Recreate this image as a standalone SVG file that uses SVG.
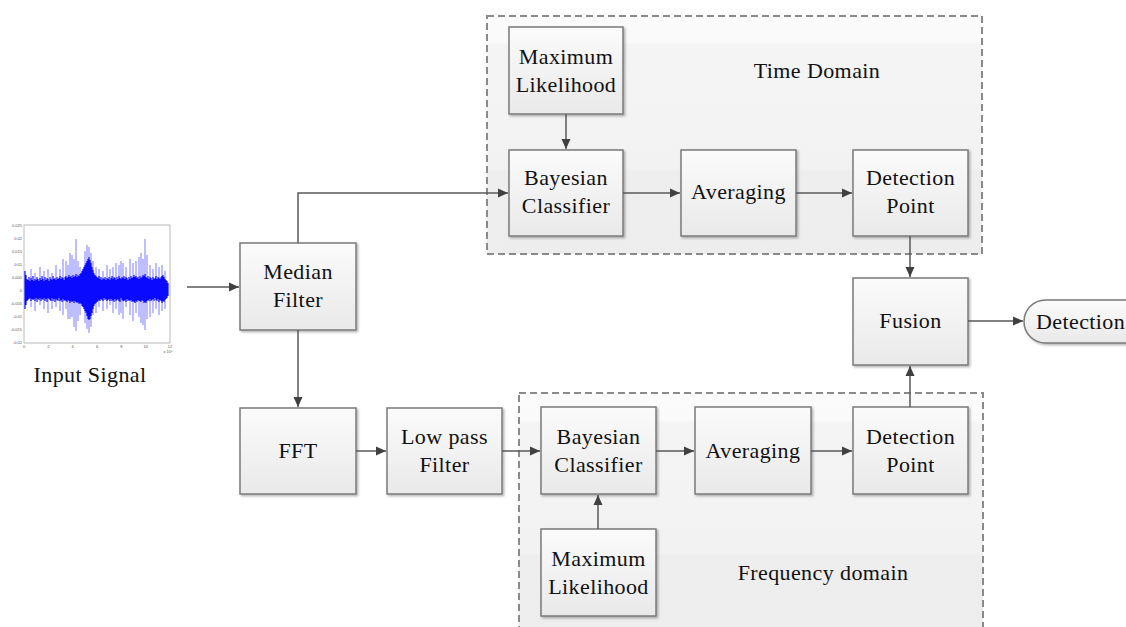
<svg xmlns="http://www.w3.org/2000/svg" width="1126" height="627" viewBox="0 0 1126 627">
<defs>
<linearGradient id="boxg" x1="0" y1="0" x2="0" y2="1">
<stop offset="0" stop-color="#fbfbfb"/><stop offset="1" stop-color="#e9e9e9"/>
</linearGradient>
<linearGradient id="areag" x1="0" y1="0" x2="0" y2="1">
<stop offset="0" stop-color="#fbfbfb"/><stop offset="0.11" stop-color="#fafafa"/><stop offset="0.12" stop-color="#f4f4f4"/><stop offset="0.64" stop-color="#f2f2f2"/><stop offset="0.65" stop-color="#eeeeee"/><stop offset="1" stop-color="#ededed"/>
</linearGradient>
<filter id="sh" x="-10%" y="-10%" width="125%" height="125%">
<feDropShadow dx="1.5" dy="1.5" stdDeviation="1" flood-color="#000" flood-opacity="0.3"/>
</filter>
<marker id="arr" viewBox="0 0 10 10" refX="10" refY="5" markerWidth="10" markerHeight="10" markerUnits="userSpaceOnUse" orient="auto">
<path d="M0,0.5 L10,5 L0,9.5 Z" fill="#404040"/>
</marker>
</defs>
<style>
.box{fill:url(#boxg);stroke:#7a7a7a;stroke-width:1.5;filter:url(#sh)}
.area{fill:url(#areag);stroke:#8a8a8a;stroke-width:2;stroke-dasharray:7 4}
.t{font-family:"Liberation Serif","Times New Roman",serif;font-size:22px;letter-spacing:0.4px;fill:#111;text-anchor:middle}
.c{fill:none;stroke:#595959;stroke-width:1.5;marker-end:url(#arr)}
.tick{font-family:"Liberation Sans",Arial,sans-serif;font-size:4px;fill:#555}
</style>
<rect width="1126" height="627" fill="#fff"/>

<g id="time-domain">
<rect class="area" x="487" y="16" width="495" height="238"/>
<text class="t" x="817" y="78">Time Domain</text>
</g>
<g id="frequency-domain">
<rect class="area" x="519" y="393" width="464" height="250"/>
<text class="t" x="823" y="580">Frequency domain</text>
</g>

<g id="input-signal">
<rect x="24" y="225" width="146" height="118" fill="#fff" stroke="#8a8a8a" stroke-width="0.6"/>
<g class="tick" text-anchor="end">
<text x="22" y="226.5">0.025</text><text x="22" y="239.6">0.02</text><text x="22" y="252.7">0.015</text><text x="22" y="265.8">0.01</text><text x="22" y="278.9">0.005</text><text x="22" y="292">0</text><text x="22" y="305.1">-0.005</text><text x="22" y="318.2">-0.01</text><text x="22" y="331.3">-0.015</text><text x="22" y="344.4">-0.02</text>
</g>
<g class="tick" text-anchor="middle">
<text x="24" y="348">0</text><text x="48.3" y="348">2</text><text x="72.7" y="348">4</text><text x="97" y="348">6</text><text x="121.3" y="348">8</text><text x="145.7" y="348">10</text><text x="170" y="348">12</text><text x="168" y="353">x 10⁵</text>
</g>
<path fill="none" stroke="#5a5aff" stroke-width="0.8" d="M31 269V307M35 273V311M40 267V305M44 271V309M48 269V313M52 273V309M56 265V307M60 269V311M63 259V315M66 261V309M68 265V319M70 253V319M72 255V317M74 259V327M76 239V331M78 261V321M80 267V315M85 251V323M87 245V329M89 247V333M91 253V327M93 261V315M96 267V313M99 269V307M103 271V311M107 265V309M110 269V305M113 267V313M116 263V309M119 265V315M121 261V313M123 263V319M126 267V307M130 259V315M133 263V321M136 261V313M139 257V317M141 253V323M143 259V325M145 239V330M147 255V319M150 265V317M153 269V313M156 263V309M159 267V315M162 265V311M165 271V309"/>
<path fill="none" stroke="#0a0aff" stroke-width="1.2" d="M25 271V309M26 275V305M27 279V301M28 280V300M29 277V299M30 281V298M31 278V301M32 280V299M33 276V300M34 281V299M35 279V301M36 280V298M37 277V302M38 279V299M39 281V300M40 278V298M41 280V301M42 276V299M43 279V300M44 281V298M45 277V301M46 280V299M47 278V302M48 279V298M49 281V299M50 277V300M51 279V301M52 280V298M53 276V301M54 279V299M55 278V302M56 280V299M57 277V300M58 279V301M59 278V298M60 276V301M61 279V300M62 277V302M63 278V299M64 280V301M65 277V300M66 276V301M67 278V302M68 277V300M69 275V301M70 277V303M71 276V301M72 278V302M73 275V301M74 277V303M75 276V301M76 274V302M77 277V303M78 275V302M79 276V304M80 274V303M81 273V304M82 271V306M83 269V307M84 267V309M85 265V311M86 263V313M87 261V316M88 259V319M89 257V320M90 260V319M91 263V316M92 267V313M93 270V309M94 273V306M95 275V304M96 276V303M97 277V302M98 278V301M99 276V300M100 279V301M101 277V299M102 280V300M103 278V301M104 279V298M105 277V300M106 280V299M107 278V301M108 279V300M109 277V299M110 280V301M111 278V299M112 276V301M113 279V300M114 277V302M115 278V299M116 280V301M117 277V300M118 279V299M119 276V301M120 278V302M121 279V298M122 277V300M123 278V301M124 276V301M125 279V300M126 277V302M127 278V299M128 280V301M129 277V300M130 279V301M131 276V300M132 278V302M133 277V301M134 275V302M135 277V303M136 276V301M137 278V302M138 277V300M139 279V301M140 276V301M141 278V302M142 277V300M143 275V301M144 276V303M145 274V302M146 277V303M147 278V301M148 276V300M149 279V301M150 277V299M151 278V301M152 280V300M153 277V299M154 279V301M155 278V298M156 276V300M157 279V301M158 277V299M159 278V302M160 279V300M161 277V301M162 276V303M163 275V301M164 277V302M165 279V300M166 280V299M167 281V298M168 283V296"/>
<text class="t" x="90" y="382">Input Signal</text>
</g>

<g id="median-filter"><rect class="box" x="240" y="243" width="116" height="87"/><text class="t" x="298" y="279">Median</text><text class="t" x="298" y="307">Filter</text></g>
<g id="fft"><rect class="box" x="240" y="408" width="116" height="86"/><text class="t" x="298" y="458">FFT</text></g>
<g id="low-pass-filter"><rect class="box" x="387" y="408" width="115" height="86"/><text class="t" x="444.5" y="444">Low pass</text><text class="t" x="444.5" y="472">Filter</text></g>

<g id="ml-time"><rect class="box" x="509" y="27" width="114" height="87"/><text class="t" x="566" y="64">Maximum</text><text class="t" x="566" y="92">Likelihood</text></g>
<g id="bayes-time"><rect class="box" x="509" y="150" width="114" height="86"/><text class="t" x="566" y="185">Bayesian</text><text class="t" x="566" y="213">Classifier</text></g>
<g id="avg-time"><rect class="box" x="681" y="150" width="115" height="86"/><text class="t" x="738.5" y="199">Averaging</text></g>
<g id="dp-time"><rect class="box" x="853" y="150" width="115" height="86"/><text class="t" x="910.5" y="185">Detection</text><text class="t" x="910.5" y="213">Point</text></g>

<g id="fusion"><rect class="box" x="853" y="278" width="115" height="87"/><text class="t" x="910.5" y="328">Fusion</text></g>
<g id="detection"><rect class="box" x="1024" y="300" width="130" height="43" rx="21.5"/><text class="t" x="1036" y="329" style="text-anchor:start">Detection</text></g>

<g id="bayes-freq"><rect class="box" x="541" y="407" width="115" height="87"/><text class="t" x="598.5" y="444">Bayesian</text><text class="t" x="598.5" y="472">Classifier</text></g>
<g id="avg-freq"><rect class="box" x="695" y="407" width="116" height="87"/><text class="t" x="753" y="458">Averaging</text></g>
<g id="dp-freq"><rect class="box" x="853" y="407" width="115" height="87"/><text class="t" x="910.5" y="444">Detection</text><text class="t" x="910.5" y="472">Point</text></g>
<g id="ml-freq"><rect class="box" x="541" y="529" width="115" height="87"/><text class="t" x="598.5" y="566">Maximum</text><text class="t" x="598.5" y="594">Likelihood</text></g>

<g id="connectors">
<path class="c" d="M187 287H239"/>
<path class="c" d="M298 243V193H508"/>
<path class="c" d="M566 114V149"/>
<path class="c" d="M623 193H680"/>
<path class="c" d="M796 193H852"/>
<path class="c" d="M910 236V277"/>
<path class="c" d="M910 407V366"/>
<path class="c" d="M968 321H1023"/>
<path class="c" d="M298 330V407"/>
<path class="c" d="M356 451H386"/>
<path class="c" d="M502 451H540"/>
<path class="c" d="M656 451H694"/>
<path class="c" d="M811 451H852"/>
<path class="c" d="M598 529V495"/>
</g>
</svg>
